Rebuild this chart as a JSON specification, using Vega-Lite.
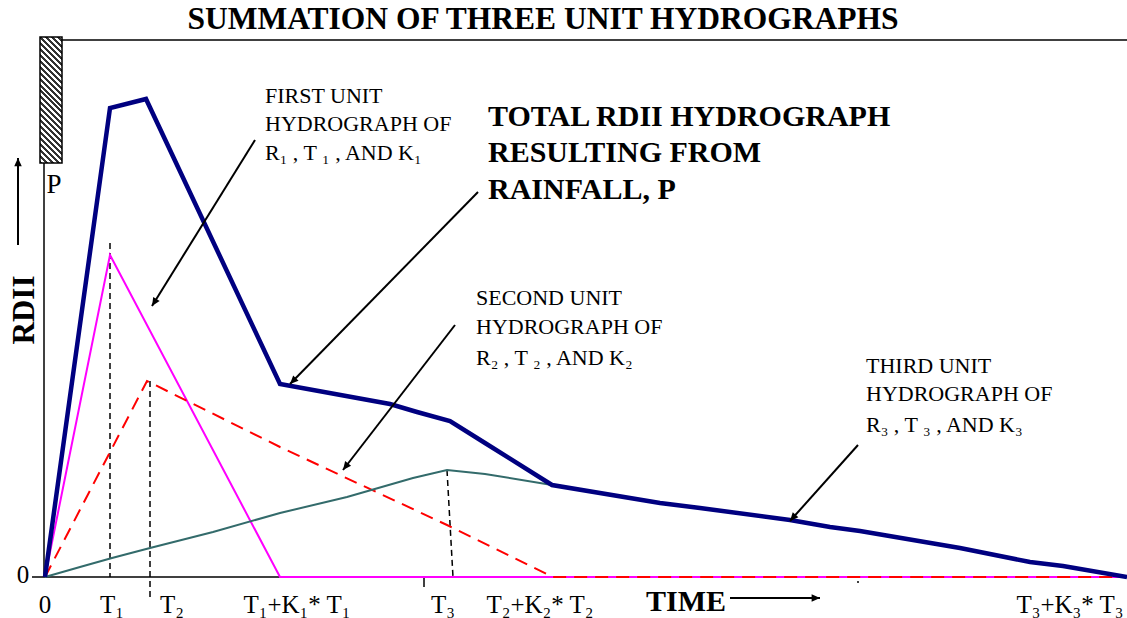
{
  "$schema": "https://vega.github.io/schema/vega-lite/v6.json",
  "width": 1127,
  "height": 618,
  "padding": 0,
  "autosize": {"type": "none"},
  "background": "white",
  "config": {"view": {"stroke": null}},
  "datasets": {
    "series": [
      {"s": "total", "i": 0, "x": 0, "y": 0},
      {"s": "total", "i": 1, "x": 65, "y": 469},
      {"s": "total", "i": 2, "x": 101, "y": 478},
      {"s": "total", "i": 3, "x": 235, "y": 193},
      {"s": "total", "i": 4, "x": 345, "y": 173},
      {"s": "total", "i": 5, "x": 372, "y": 165},
      {"s": "total", "i": 6, "x": 405, "y": 156},
      {"s": "total", "i": 7, "x": 440, "y": 134},
      {"s": "total", "i": 8, "x": 507, "y": 92},
      {"s": "total", "i": 9, "x": 615, "y": 74},
      {"s": "total", "i": 10, "x": 655, "y": 69},
      {"s": "total", "i": 11, "x": 745, "y": 57},
      {"s": "total", "i": 12, "x": 785, "y": 50},
      {"s": "total", "i": 13, "x": 815, "y": 46},
      {"s": "total", "i": 14, "x": 915, "y": 29},
      {"s": "total", "i": 15, "x": 985, "y": 15},
      {"s": "total", "i": 16, "x": 1018, "y": 11},
      {"s": "total", "i": 17, "x": 1082, "y": 0},
      {"s": "first", "i": 0, "x": 0, "y": 0},
      {"s": "first", "i": 1, "x": 65, "y": 322},
      {"s": "first", "i": 2, "x": 235, "y": 0},
      {"s": "first", "i": 3, "x": 1082, "y": 0},
      {"s": "second", "i": 0, "x": 0, "y": 0},
      {"s": "second", "i": 1, "x": 102, "y": 196},
      {"s": "second", "i": 2, "x": 235, "y": 130},
      {"s": "second", "i": 3, "x": 402, "y": 52},
      {"s": "second", "i": 4, "x": 508, "y": 0},
      {"s": "second", "i": 5, "x": 1082, "y": 0},
      {"s": "third", "i": 0, "x": 0, "y": 0},
      {"s": "third", "i": 1, "x": 35, "y": 10},
      {"s": "third", "i": 2, "x": 67, "y": 19},
      {"s": "third", "i": 3, "x": 105, "y": 29},
      {"s": "third", "i": 4, "x": 168, "y": 45},
      {"s": "third", "i": 5, "x": 235, "y": 64},
      {"s": "third", "i": 6, "x": 302, "y": 80},
      {"s": "third", "i": 7, "x": 368, "y": 99},
      {"s": "third", "i": 8, "x": 402, "y": 107},
      {"s": "third", "i": 9, "x": 440, "y": 103},
      {"s": "third", "i": 10, "x": 507, "y": 92},
      {"s": "third", "i": 11, "x": 615, "y": 74},
      {"s": "third", "i": 12, "x": 655, "y": 69},
      {"s": "third", "i": 13, "x": 745, "y": 57},
      {"s": "third", "i": 14, "x": 785, "y": 50},
      {"s": "third", "i": 15, "x": 815, "y": 46},
      {"s": "third", "i": 16, "x": 915, "y": 29},
      {"s": "third", "i": 17, "x": 985, "y": 15},
      {"s": "third", "i": 18, "x": 1018, "y": 11},
      {"s": "third", "i": 19, "x": 1082, "y": 0}
    ],
    "bar": [{"x": -5, "y": 540, "x2": 17, "y2": 414}],
    "frame": [
      {"x": 17, "y": 537, "x2": 1082, "y2": 537},
      {"x": -1, "y": 414, "x2": -1, "y2": 0},
      {"x": -13, "y": 0, "x2": 1082, "y2": 0},
      {"x": 379, "y": 0, "x2": 379, "y2": -10},
      {"x": 813, "y": -4, "x2": 813, "y2": -6}
    ],
    "dashed": [
      {"x": 65, "y": 334, "x2": 65, "y2": 0},
      {"x": 105, "y": 196, "x2": 105, "y2": -23},
      {"x": 402, "y": 107, "x2": 408, "y2": 0}
    ],
    "arrows": [
      {"x": 107, "y": 271, "x2": 210, "y2": 437},
      {"x": 245, "y": 193, "x2": 433, "y2": 385},
      {"x": 298, "y": 107, "x2": 410, "y2": 252},
      {"x": 745, "y": 56, "x2": 813, "y2": 132},
      {"x": 775, "y": -21, "x2": 685, "y2": -21},
      {"x": -27, "y": 419, "x2": -27, "y2": 332}
    ],
    "texts": [
      {"g": "title", "x": 498, "y": 557, "t": "SUMMATION OF THREE UNIT HYDROGRAPHS"},
      {"g": "total", "x": 443, "y": 460, "t": "TOTAL RDII HYDROGRAPH"},
      {"g": "total", "x": 443, "y": 424, "t": "RESULTING FROM"},
      {"g": "total", "x": 443, "y": 387, "t": "RAINFALL, P"},
      {"g": "note", "x": 220, "y": 481, "t": "FIRST UNIT"},
      {"g": "note", "x": 220, "y": 453, "t": "HYDROGRAPH OF"},
      {"g": "note", "x": 220, "y": 424, "t": "R₁ , T ₁ , AND K₁"},
      {"g": "note", "x": 431, "y": 279, "t": "SECOND UNIT"},
      {"g": "note", "x": 431, "y": 250, "t": "HYDROGRAPH OF"},
      {"g": "note", "x": 431, "y": 219, "t": "R₂ , T ₂ , AND K₂"},
      {"g": "note", "x": 821, "y": 211, "t": "THIRD UNIT"},
      {"g": "note", "x": 821, "y": 183, "t": "HYDROGRAPH OF"},
      {"g": "note", "x": 821, "y": 152, "t": "R₃ , T ₃ , AND K₃"},
      {"g": "tick", "x": 0, "y": -28, "t": "0"},
      {"g": "tick", "x": 67, "y": -28, "t": "T₁"},
      {"g": "tick", "x": 127, "y": -28, "t": "T₂"},
      {"g": "tick", "x": 252, "y": -28, "t": "T₁+K₁* T₁"},
      {"g": "tick", "x": 398, "y": -28, "t": "T₃"},
      {"g": "tick", "x": 495, "y": -28, "t": "T₂+K₂* T₂"},
      {"g": "tick", "x": 1025, "y": -28, "t": "T₃+K₃* T₃"},
      {"g": "tick", "x": -22, "y": 2, "t": "0"},
      {"g": "p", "x": 9, "y": 392, "t": "P"},
      {"g": "time", "x": 641, "y": -25, "t": "TIME"},
      {"g": "rdii", "x": -20, "y": 267, "t": "RDII"}
    ]
  },
  "encoding": {
    "x": {"field": "x", "type": "quantitative", "scale": {"domain": [-45, 1082], "nice": false, "zero": false}, "axis": null},
    "y": {"field": "y", "type": "quantitative", "scale": {"domain": [-41, 577], "nice": false, "zero": false}, "axis": null}
  },
  "layer": [
    {
      "data": {"name": "frame"},
      "mark": {"type": "rule", "color": "#000000", "strokeWidth": 1.5},
      "encoding": {"x2": {"field": "x2"}, "y2": {"field": "y2"}}
    },
    {
      "data": {"name": "bar"},
      "mark": {
        "type": "rect",
        "stroke": "#000000",
        "strokeWidth": 1.5,
        "fill": {
          "gradient": "linear", "x1": 0, "y1": 1, "x2": 0.199, "y2": -0.14,
          "stops": [
            {"offset": 0, "color": "#333"}, {"offset": 0.02, "color": "#333"}, {"offset": 0.02, "color": "#fff"}, {"offset": 0.04, "color": "#fff"},
            {"offset": 0.04, "color": "#333"}, {"offset": 0.06, "color": "#333"}, {"offset": 0.06, "color": "#fff"}, {"offset": 0.08, "color": "#fff"},
            {"offset": 0.08, "color": "#333"}, {"offset": 0.10, "color": "#333"}, {"offset": 0.10, "color": "#fff"}, {"offset": 0.12, "color": "#fff"},
            {"offset": 0.12, "color": "#333"}, {"offset": 0.14, "color": "#333"}, {"offset": 0.14, "color": "#fff"}, {"offset": 0.16, "color": "#fff"},
            {"offset": 0.16, "color": "#333"}, {"offset": 0.18, "color": "#333"}, {"offset": 0.18, "color": "#fff"}, {"offset": 0.20, "color": "#fff"},
            {"offset": 0.20, "color": "#333"}, {"offset": 0.22, "color": "#333"}, {"offset": 0.22, "color": "#fff"}, {"offset": 0.24, "color": "#fff"},
            {"offset": 0.24, "color": "#333"}, {"offset": 0.26, "color": "#333"}, {"offset": 0.26, "color": "#fff"}, {"offset": 0.28, "color": "#fff"},
            {"offset": 0.28, "color": "#333"}, {"offset": 0.30, "color": "#333"}, {"offset": 0.30, "color": "#fff"}, {"offset": 0.32, "color": "#fff"},
            {"offset": 0.32, "color": "#333"}, {"offset": 0.34, "color": "#333"}, {"offset": 0.34, "color": "#fff"}, {"offset": 0.36, "color": "#fff"},
            {"offset": 0.36, "color": "#333"}, {"offset": 0.38, "color": "#333"}, {"offset": 0.38, "color": "#fff"}, {"offset": 0.40, "color": "#fff"},
            {"offset": 0.40, "color": "#333"}, {"offset": 0.42, "color": "#333"}, {"offset": 0.42, "color": "#fff"}, {"offset": 0.44, "color": "#fff"},
            {"offset": 0.44, "color": "#333"}, {"offset": 0.46, "color": "#333"}, {"offset": 0.46, "color": "#fff"}, {"offset": 0.48, "color": "#fff"},
            {"offset": 0.48, "color": "#333"}, {"offset": 0.50, "color": "#333"}, {"offset": 0.50, "color": "#fff"}, {"offset": 0.52, "color": "#fff"},
            {"offset": 0.52, "color": "#333"}, {"offset": 0.54, "color": "#333"}, {"offset": 0.54, "color": "#fff"}, {"offset": 0.56, "color": "#fff"},
            {"offset": 0.56, "color": "#333"}, {"offset": 0.58, "color": "#333"}, {"offset": 0.58, "color": "#fff"}, {"offset": 0.60, "color": "#fff"},
            {"offset": 0.60, "color": "#333"}, {"offset": 0.62, "color": "#333"}, {"offset": 0.62, "color": "#fff"}, {"offset": 0.64, "color": "#fff"},
            {"offset": 0.64, "color": "#333"}, {"offset": 0.66, "color": "#333"}, {"offset": 0.66, "color": "#fff"}, {"offset": 0.68, "color": "#fff"},
            {"offset": 0.68, "color": "#333"}, {"offset": 0.70, "color": "#333"}, {"offset": 0.70, "color": "#fff"}, {"offset": 0.72, "color": "#fff"},
            {"offset": 0.72, "color": "#333"}, {"offset": 0.74, "color": "#333"}, {"offset": 0.74, "color": "#fff"}, {"offset": 0.76, "color": "#fff"},
            {"offset": 0.76, "color": "#333"}, {"offset": 0.78, "color": "#333"}, {"offset": 0.78, "color": "#fff"}, {"offset": 0.80, "color": "#fff"},
            {"offset": 0.80, "color": "#333"}, {"offset": 0.82, "color": "#333"}, {"offset": 0.82, "color": "#fff"}, {"offset": 0.84, "color": "#fff"},
            {"offset": 0.84, "color": "#333"}, {"offset": 0.86, "color": "#333"}, {"offset": 0.86, "color": "#fff"}, {"offset": 0.88, "color": "#fff"},
            {"offset": 0.88, "color": "#333"}, {"offset": 0.90, "color": "#333"}, {"offset": 0.90, "color": "#fff"}, {"offset": 0.92, "color": "#fff"},
            {"offset": 0.92, "color": "#333"}, {"offset": 0.94, "color": "#333"}, {"offset": 0.94, "color": "#fff"}, {"offset": 0.96, "color": "#fff"},
            {"offset": 0.96, "color": "#333"}, {"offset": 0.98, "color": "#333"}, {"offset": 0.98, "color": "#fff"}, {"offset": 1, "color": "#fff"}
          ]
        }
      },
      "encoding": {"x2": {"field": "x2"}, "y2": {"field": "y2"}}
    },
    {
      "data": {"name": "dashed"},
      "mark": {"type": "rule", "color": "#000000", "strokeWidth": 1.5, "strokeDash": [6, 4]},
      "encoding": {"x2": {"field": "x2"}, "y2": {"field": "y2"}}
    },
    {
      "data": {"name": "series"},
      "transform": [{"filter": "datum.s === 'first'"}],
      "mark": {"type": "line", "color": "#FF00FF", "strokeWidth": 2},
      "encoding": {"order": {"field": "i", "type": "quantitative"}}
    },
    {
      "data": {"name": "series"},
      "transform": [{"filter": "datum.s === 'second'"}],
      "mark": {"type": "line", "color": "#FF0000", "strokeWidth": 2, "strokeDash": [13, 8]},
      "encoding": {"order": {"field": "i", "type": "quantitative"}}
    },
    {
      "data": {"name": "series"},
      "transform": [{"filter": "datum.s === 'third'"}],
      "mark": {"type": "line", "color": "#336B6B", "strokeWidth": 2},
      "encoding": {"order": {"field": "i", "type": "quantitative"}}
    },
    {
      "data": {"name": "series"},
      "transform": [{"filter": "datum.s === 'total'"}],
      "mark": {"type": "line", "color": "#000080", "strokeWidth": 4.5, "strokeJoin": "miter"},
      "encoding": {"order": {"field": "i", "type": "quantitative"}}
    },
    {
      "data": {"name": "arrows"},
      "mark": {"type": "rule", "color": "#000000", "strokeWidth": 2},
      "encoding": {"x2": {"field": "x2"}, "y2": {"field": "y2"}}
    },
    {
      "data": {"name": "arrows"},
      "transform": [{"calculate": "atan2(datum.x - datum.x2, datum.y - datum.y2) * 180 / PI", "as": "ang"}],
      "mark": {"type": "point", "shape": "M0,0L-0.45,1L0.45,1Z", "filled": true, "color": "#000000", "size": 280, "opacity": 1},
      "encoding": {"angle": {"field": "ang", "type": "quantitative", "scale": null}}
    },
    {
      "data": {"name": "texts"},
      "transform": [{"filter": "datum.g === 'title'"}],
      "mark": {"type": "text", "font": "Liberation Serif", "fontSize": 31.5, "fontWeight": "bold", "align": "center", "baseline": "middle", "color": "#000"},
      "encoding": {"text": {"field": "t"}}
    },
    {
      "data": {"name": "texts"},
      "transform": [{"filter": "datum.g === 'total'"}],
      "mark": {"type": "text", "font": "Liberation Serif", "fontSize": 30, "fontWeight": "bold", "align": "left", "baseline": "middle", "color": "#000"},
      "encoding": {"text": {"field": "t"}}
    },
    {
      "data": {"name": "texts"},
      "transform": [{"filter": "datum.g === 'note'"}],
      "mark": {"type": "text", "font": "Liberation Serif", "fontSize": 22, "align": "left", "baseline": "middle", "color": "#000"},
      "encoding": {"text": {"field": "t"}}
    },
    {
      "data": {"name": "texts"},
      "transform": [{"filter": "datum.g === 'tick'"}],
      "mark": {"type": "text", "font": "Liberation Serif", "fontSize": 25, "align": "center", "baseline": "middle", "color": "#000"},
      "encoding": {"text": {"field": "t"}}
    },
    {
      "data": {"name": "texts"},
      "transform": [{"filter": "datum.g === 'p'"}],
      "mark": {"type": "text", "font": "Liberation Serif", "fontSize": 27, "align": "center", "baseline": "middle", "color": "#000"},
      "encoding": {"text": {"field": "t"}}
    },
    {
      "data": {"name": "texts"},
      "transform": [{"filter": "datum.g === 'time'"}],
      "mark": {"type": "text", "font": "Liberation Serif", "fontSize": 30, "fontWeight": "bold", "align": "center", "baseline": "middle", "color": "#000"},
      "encoding": {"text": {"field": "t"}}
    },
    {
      "data": {"name": "texts"},
      "transform": [{"filter": "datum.g === 'rdii'"}],
      "mark": {"type": "text", "font": "Liberation Serif", "fontSize": 31, "fontWeight": "bold", "align": "center", "baseline": "middle", "angle": 270, "color": "#000"},
      "encoding": {"text": {"field": "t"}}
    }
  ]
}
